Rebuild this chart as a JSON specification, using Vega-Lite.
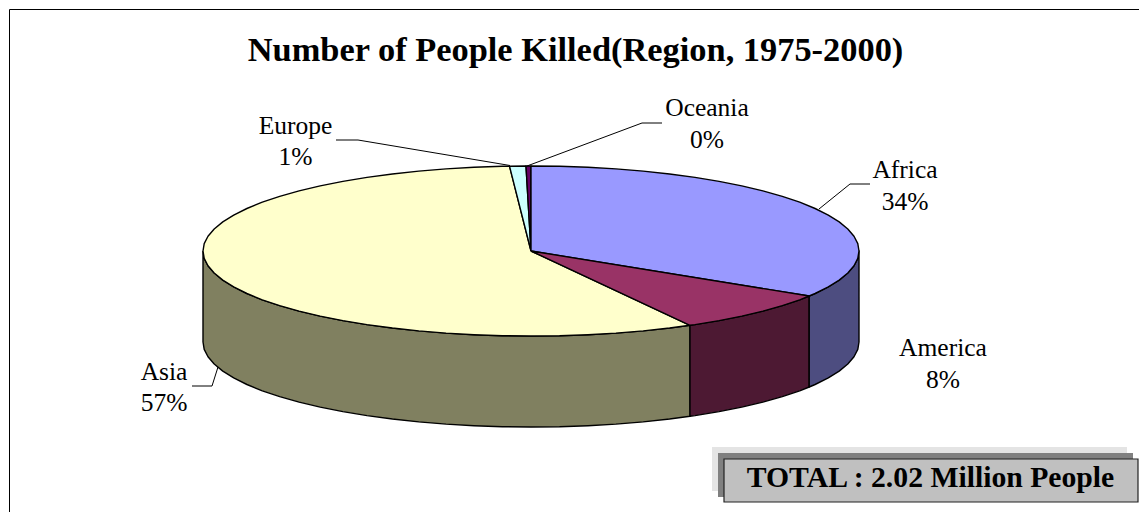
{"$schema":"https://vega.github.io/schema/vega-lite/v6.json","width":1139,"height":512,"padding":0,"autosize":"none","background":"white","view":{"stroke":null},
"title":{"text":"Number of People Killed(Region, 1975-2000)","font":"Liberation Serif","fontWeight":"bold","fontSize":34.4,"color":"black","anchor":"middle","frame":"group","baseline":"alphabetic","offset":0,"dx":6,"dy":95.4},
"datasets":{
"sides":[
{"slice":"Asia","x":203,"y":251},{"slice":"Asia","x":204.2,"y":258.4},{"slice":"Asia","x":208,"y":265.8},{"slice":"Asia","x":214.2,"y":273},{"slice":"Asia","x":222.8,"y":280.1},{"slice":"Asia","x":233.7,"y":286.9},{"slice":"Asia","x":246.9,"y":293.5},{"slice":"Asia","x":262.3,"y":299.8},{"slice":"Asia","x":279.7,"y":305.6},{"slice":"Asia","x":299.1,"y":311.1},{"slice":"Asia","x":320.2,"y":316.1},{"slice":"Asia","x":342.9,"y":320.6},{"slice":"Asia","x":367,"y":324.6},{"slice":"Asia","x":392.4,"y":328},{"slice":"Asia","x":418.8,"y":330.9},{"slice":"Asia","x":446.1,"y":333.1},{"slice":"Asia","x":474,"y":334.7},{"slice":"Asia","x":502.4,"y":335.7},{"slice":"Asia","x":531,"y":336},{"slice":"Asia","x":559.6,"y":335.7},{"slice":"Asia","x":588,"y":334.7},{"slice":"Asia","x":615.9,"y":333.1},{"slice":"Asia","x":643.2,"y":330.9},{"slice":"Asia","x":669.6,"y":328},{"slice":"Asia","x":690,"y":325.3},
{"slice":"Asia","x":690,"y":416.3},{"slice":"Asia","x":669.6,"y":419},{"slice":"Asia","x":643.2,"y":421.9},{"slice":"Asia","x":615.9,"y":424.1},{"slice":"Asia","x":588,"y":425.7},{"slice":"Asia","x":559.6,"y":426.7},{"slice":"Asia","x":531,"y":427},{"slice":"Asia","x":502.4,"y":426.7},{"slice":"Asia","x":474,"y":425.7},{"slice":"Asia","x":446.1,"y":424.1},{"slice":"Asia","x":418.8,"y":421.9},{"slice":"Asia","x":392.4,"y":419},{"slice":"Asia","x":367,"y":415.6},{"slice":"Asia","x":342.9,"y":411.6},{"slice":"Asia","x":320.2,"y":407.1},{"slice":"Asia","x":299.1,"y":402.1},{"slice":"Asia","x":279.7,"y":396.6},{"slice":"Asia","x":262.3,"y":390.8},{"slice":"Asia","x":246.9,"y":384.5},{"slice":"Asia","x":233.7,"y":377.9},{"slice":"Asia","x":222.8,"y":371.1},{"slice":"Asia","x":214.2,"y":364},{"slice":"Asia","x":208,"y":356.8},{"slice":"Asia","x":204.2,"y":349.4},{"slice":"Asia","x":203,"y":342},{"slice":"Asia","x":203,"y":251},
{"slice":"America","x":690,"y":325.3},{"slice":"America","x":695,"y":324.6},{"slice":"America","x":719.1,"y":320.6},{"slice":"America","x":741.8,"y":316.1},{"slice":"America","x":762.9,"y":311.1},{"slice":"America","x":782.3,"y":305.6},{"slice":"America","x":799.7,"y":299.8},{"slice":"America","x":809.2,"y":296},{"slice":"America","x":809.2,"y":387},{"slice":"America","x":799.7,"y":390.8},{"slice":"America","x":782.3,"y":396.6},{"slice":"America","x":762.9,"y":402.1},{"slice":"America","x":741.8,"y":407.1},{"slice":"America","x":719.1,"y":411.6},{"slice":"America","x":695,"y":415.6},{"slice":"America","x":690,"y":416.3},{"slice":"America","x":690,"y":325.3},
{"slice":"Africa","x":809.2,"y":296},{"slice":"Africa","x":815.1,"y":293.5},{"slice":"Africa","x":828.3,"y":286.9},{"slice":"Africa","x":839.2,"y":280.1},{"slice":"Africa","x":847.8,"y":273},{"slice":"Africa","x":854,"y":265.8},{"slice":"Africa","x":857.8,"y":258.4},{"slice":"Africa","x":859,"y":251},{"slice":"Africa","x":859,"y":342},{"slice":"Africa","x":857.8,"y":349.4},{"slice":"Africa","x":854,"y":356.8},{"slice":"Africa","x":847.8,"y":364},{"slice":"Africa","x":839.2,"y":371.1},{"slice":"Africa","x":828.3,"y":377.9},{"slice":"Africa","x":815.1,"y":384.5},{"slice":"Africa","x":809.2,"y":387},{"slice":"Africa","x":809.2,"y":296}
],
"tops":[
{"slice":"Asia","x":531,"y":251},{"slice":"Asia","x":690,"y":325.3},{"slice":"Asia","x":669.6,"y":328},{"slice":"Asia","x":643.2,"y":330.9},{"slice":"Asia","x":615.9,"y":333.1},{"slice":"Asia","x":588,"y":334.7},{"slice":"Asia","x":559.6,"y":335.7},{"slice":"Asia","x":531,"y":336},{"slice":"Asia","x":502.4,"y":335.7},{"slice":"Asia","x":474,"y":334.7},{"slice":"Asia","x":446.1,"y":333.1},{"slice":"Asia","x":418.8,"y":330.9},{"slice":"Asia","x":392.4,"y":328},{"slice":"Asia","x":367,"y":324.6},{"slice":"Asia","x":342.9,"y":320.6},{"slice":"Asia","x":320.2,"y":316.1},{"slice":"Asia","x":299.1,"y":311.1},{"slice":"Asia","x":279.7,"y":305.6},{"slice":"Asia","x":262.3,"y":299.8},{"slice":"Asia","x":246.9,"y":293.5},{"slice":"Asia","x":233.7,"y":286.9},{"slice":"Asia","x":222.8,"y":280.1},{"slice":"Asia","x":214.2,"y":273},{"slice":"Asia","x":208,"y":265.8},{"slice":"Asia","x":204.2,"y":258.4},{"slice":"Asia","x":203,"y":251},{"slice":"Asia","x":204.2,"y":243.6},{"slice":"Asia","x":208,"y":236.2},{"slice":"Asia","x":214.2,"y":229},{"slice":"Asia","x":222.8,"y":221.9},{"slice":"Asia","x":233.7,"y":215.1},{"slice":"Asia","x":246.9,"y":208.5},{"slice":"Asia","x":262.3,"y":202.2},{"slice":"Asia","x":279.7,"y":196.4},{"slice":"Asia","x":299.1,"y":190.9},{"slice":"Asia","x":320.2,"y":185.9},{"slice":"Asia","x":342.9,"y":181.4},{"slice":"Asia","x":367,"y":177.4},{"slice":"Asia","x":392.4,"y":174},{"slice":"Asia","x":418.8,"y":171.1},{"slice":"Asia","x":446.1,"y":168.9},{"slice":"Asia","x":474,"y":167.3},{"slice":"Asia","x":502.4,"y":166.3},{"slice":"Asia","x":509.5,"y":166.2},{"slice":"Asia","x":531,"y":251},
{"slice":"Europe","x":531,"y":251},{"slice":"Europe","x":509.5,"y":166.2},{"slice":"Europe","x":526,"y":166},{"slice":"Europe","x":531,"y":251},
{"slice":"Oceania","x":531,"y":251},{"slice":"Oceania","x":526,"y":166},{"slice":"Oceania","x":531,"y":166},{"slice":"Oceania","x":531,"y":251},
{"slice":"Africa","x":531,"y":251},{"slice":"Africa","x":531,"y":166},{"slice":"Africa","x":559.6,"y":166.3},{"slice":"Africa","x":588,"y":167.3},{"slice":"Africa","x":615.9,"y":168.9},{"slice":"Africa","x":643.2,"y":171.1},{"slice":"Africa","x":669.6,"y":174},{"slice":"Africa","x":695,"y":177.4},{"slice":"Africa","x":719.1,"y":181.4},{"slice":"Africa","x":741.8,"y":185.9},{"slice":"Africa","x":762.9,"y":190.9},{"slice":"Africa","x":782.3,"y":196.4},{"slice":"Africa","x":799.7,"y":202.2},{"slice":"Africa","x":815.1,"y":208.5},{"slice":"Africa","x":828.3,"y":215.1},{"slice":"Africa","x":839.2,"y":221.9},{"slice":"Africa","x":847.8,"y":229},{"slice":"Africa","x":854,"y":236.2},{"slice":"Africa","x":857.8,"y":243.6},{"slice":"Africa","x":859,"y":251},{"slice":"Africa","x":857.8,"y":258.4},{"slice":"Africa","x":854,"y":265.8},{"slice":"Africa","x":847.8,"y":273},{"slice":"Africa","x":839.2,"y":280.1},{"slice":"Africa","x":828.3,"y":286.9},{"slice":"Africa","x":815.1,"y":293.5},{"slice":"Africa","x":809.2,"y":296},{"slice":"Africa","x":531,"y":251},
{"slice":"America","x":531,"y":251},{"slice":"America","x":809.2,"y":296},{"slice":"America","x":799.7,"y":299.8},{"slice":"America","x":782.3,"y":305.6},{"slice":"America","x":762.9,"y":311.1},{"slice":"America","x":741.8,"y":316.1},{"slice":"America","x":719.1,"y":320.6},{"slice":"America","x":695,"y":324.6},{"slice":"America","x":690,"y":325.3},{"slice":"America","x":531,"y":251}
],
"leaders":[
{"label":"Oceania","x":662,"y":123},{"label":"Oceania","x":642,"y":123},{"label":"Oceania","x":527,"y":166},
{"label":"Europe","x":336,"y":140},{"label":"Europe","x":358,"y":140},{"label":"Europe","x":510,"y":165.5},
{"label":"Africa","x":870,"y":184},{"label":"Africa","x":850,"y":184},{"label":"Africa","x":819,"y":209},
{"label":"Asia","x":192,"y":386},{"label":"Asia","x":212,"y":386},{"label":"Asia","x":218,"y":367},
{"label":"Frame","x":1139,"y":9.5},{"label":"Frame","x":9.5,"y":9.5},{"label":"Frame","x":9.5,"y":512}
],
"boxes":[
{"box":"highlight","x":712,"x2":1127,"y":447,"y2":491},
{"box":"shadow","x":718,"x2":1133,"y":453,"y2":497},
{"box":"total","x":724,"x2":1138,"y":459,"y2":502}
],
"labels":[
{"text":"Oceania","x":707,"y":116},{"text":"0%","x":707,"y":148},
{"text":"Africa","x":905,"y":178},{"text":"34%","x":905,"y":210},
{"text":"America","x":943,"y":356},{"text":"8%","x":943,"y":388},
{"text":"Europe","x":295.5,"y":134},{"text":"1%","x":295.5,"y":165},
{"text":"Asia","x":164,"y":380},{"text":"57%","x":164,"y":411}
]
},
"data":{"name":"tops"},
"layer":[
{"data":{"name":"sides"},"mark":{"type":"line","stroke":"black","strokeWidth":1.4,"strokeJoin":"round"},
"encoding":{"x":{"field":"x","type":"quantitative","scale":{"domain":[0,1139]},"axis":null},"y":{"field":"y","type":"quantitative","scale":{"domain":[512,0]},"axis":null},"order":{"value":null},
"fill":{"field":"slice","type":"nominal","legend":null,"scale":{"domain":["Asia","America","Africa"],"range":["#808060","#4D1933","#4D4D80"]}}}},
{"data":{"name":"tops"},"mark":{"type":"line","stroke":"black","strokeWidth":1.4,"strokeJoin":"round"},
"encoding":{"x":{"field":"x","type":"quantitative","scale":{"domain":[0,1139]},"axis":null},"y":{"field":"y","type":"quantitative","scale":{"domain":[512,0]},"axis":null},"order":{"value":null},
"fill":{"field":"slice","type":"nominal","legend":null,"scale":{"domain":["Asia","Europe","Oceania","Africa","America"],"range":["#FFFFCC","#CCFFFF","#660066","#9999FF","#993366"]}}}},
{"data":{"name":"leaders"},"mark":{"type":"line","stroke":"black","strokeWidth":1},
"encoding":{"x":{"field":"x","type":"quantitative","scale":{"domain":[0,1139]},"axis":null},"y":{"field":"y","type":"quantitative","scale":{"domain":[512,0]},"axis":null},"order":{"value":null},"detail":{"field":"label"}}},
{"data":{"name":"boxes"},"transform":[{"filter":"datum.box==='highlight'"}],"mark":{"type":"rect","fill":"#E4E4E4"},
"encoding":{"x":{"field":"x","type":"quantitative","scale":{"domain":[0,1139]},"axis":null},"x2":{"field":"x2"},"y":{"field":"y","type":"quantitative","scale":{"domain":[512,0]},"axis":null},"y2":{"field":"y2"}}},
{"data":{"name":"boxes"},"transform":[{"filter":"datum.box==='shadow'"}],"mark":{"type":"rect","fill":"#808080"},
"encoding":{"x":{"field":"x","type":"quantitative","scale":{"domain":[0,1139]},"axis":null},"x2":{"field":"x2"},"y":{"field":"y","type":"quantitative","scale":{"domain":[512,0]},"axis":null},"y2":{"field":"y2"}}},
{"data":{"name":"boxes"},"transform":[{"filter":"datum.box==='total'"}],"mark":{"type":"rect","fill":"#C0C0C0","stroke":"#222222","strokeWidth":1.2},
"encoding":{"x":{"field":"x","type":"quantitative","scale":{"domain":[0,1139]},"axis":null},"x2":{"field":"x2"},"y":{"field":"y","type":"quantitative","scale":{"domain":[512,0]},"axis":null},"y2":{"field":"y2"}}},
{"data":{"name":"labels"},"mark":{"type":"text","font":"Liberation Serif","fontSize":25.5,"color":"black","align":"center","baseline":"alphabetic"},
"encoding":{"x":{"field":"x","type":"quantitative","scale":{"domain":[0,1139]},"axis":null},"y":{"field":"y","type":"quantitative","scale":{"domain":[512,0]},"axis":null},"text":{"field":"text"}}},
{"data":{"values":[{"text":"TOTAL : 2.02 Million People","x":930.5,"y":487}]},"mark":{"type":"text","font":"Liberation Serif","fontWeight":"bold","fontSize":29.7,"color":"black","align":"center","baseline":"alphabetic"},
"encoding":{"x":{"field":"x","type":"quantitative","scale":{"domain":[0,1139]},"axis":null},"y":{"field":"y","type":"quantitative","scale":{"domain":[512,0]},"axis":null},"text":{"field":"text"}}}
],
"resolve":{"scale":{"fill":"independent"}}
}
